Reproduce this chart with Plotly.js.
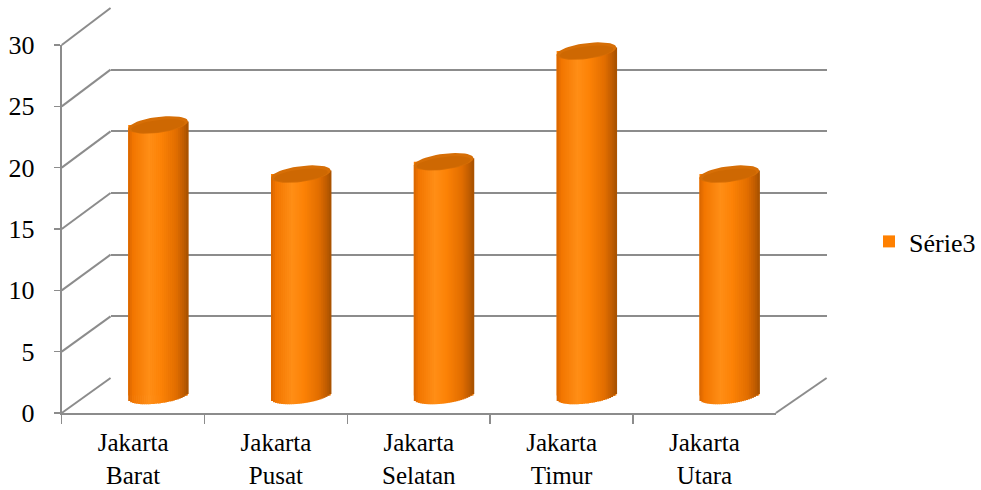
<!DOCTYPE html>
<html>
<head>
<meta charset="utf-8">
<script src="https://cdn.plot.ly/plotly-3.0.1.min.js"></script>
<style>html,body{margin:0;padding:0;background:#fff;}#chart{width:981px;height:490px;}</style>
</head>
<body>
<div id="chart"></div>
<script>
// ---- data ----
const categories = ['Jakarta Barat', 'Jakarta Pusat', 'Jakarta Selatan', 'Jakarta Timur', 'Jakarta Utara'];
const tickLabels = ['Jakarta<br>Barat', 'Jakarta<br>Pusat', 'Jakarta<br>Selatan', 'Jakarta<br>Timur', 'Jakarta<br>Utara'];
const values = [22, 18, 19, 28, 18];
const yTicks = [0, 5, 10, 15, 20, 25, 30];
const seriesName = 'Série3';

// ---- geometry (pixels) ----
const W = 981, H = 490;
const fx = p => p / W;
const fy = p => (H - p) / H;
const FRONT = {x0: 62, x1: 779, y0: 413, y1: 45};
const BACK = {x0: 111, x1: 830, y0: 378, y1: 8};
const MID = {x0: 87, x1: 804, y0: (413 + 378) / 2, y1: (45 + 8) / 2};
const yMax = 30, yMidMin = -2;
const pxPerCat = (MID.x1 - MID.x0) / categories.length;
const pxPerUnit = (MID.y0 - MID.y1) / yMax;
const midBottomPx = MID.y0 - yMidMin * pxPerUnit;

const idx = categories.map((c, i) => i);
const font = "'Liberation Serif', 'Times New Roman', 'DejaVu Serif', serif";

// cylinder geometry
const A = 30, B = 8, TILT = 0.12, N = 30;
function stripeColor(u) {
  const stops = [
    [0.00, [214, 100, 0]],
    [0.08, [242, 118, 0]],
    [0.35, [255, 142, 22]],
    [0.55, [252, 130, 6]],
    [0.80, [226, 110, 0]],
    [0.93, [192, 92, 0]],
    [1.00, [165, 80, 0]]
  ];
  for (let s = 0; s < stops.length - 1; s++) {
    const [u0, c0] = stops[s], [u1, c1] = stops[s + 1];
    if (u >= u0 && u <= u1) {
      const t = (u - u0) / (u1 - u0);
      const c = c0.map((v, k) => Math.round(v + (c1[k] - v) * t));
      return 'rgb(' + c.join(',') + ')';
    }
  }
  return 'rgb(165,80,0)';
}

const traces = [];
// back-wall subplot anchor (invisible)
traces.push({type: 'scatter', x: [0], y: [0], xaxis: 'x2', yaxis: 'y2', mode: 'markers',
  marker: {opacity: 0}, hoverinfo: 'skip', showlegend: false});
// front axes anchor (invisible)
traces.push({type: 'scatter', x: categories, y: values, xaxis: 'x', yaxis: 'y', mode: 'markers',
  marker: {opacity: 0}, hoverinfo: 'skip', showlegend: false});

// base series bar (also gives the legend entry)
traces.push({type: 'bar', name: seriesName, x: idx, y: values, base: 0,
  width: 2 * A / pxPerCat, offset: -A / pxPerCat,
  xaxis: 'x3', yaxis: 'y3', marker: {color: 'rgb(255,128,0)', line: {width: 0}},
  showlegend: true, hoverinfo: 'skip'});

// shaded stripes forming the cylinder body
const sw = 2 * A / N;
for (let k = 0; k < N; k++) {
  const Xl = -A + k * sw;
  const Xc = Xl + sw / 2;
  const u = (k + 0.5) / N;
  const basePx = Xc * TILT - B * Math.sqrt(Math.max(0, 1 - (Xc / A) ** 2));
  const base = basePx / pxPerUnit;
  const topOff = Xc * TILT / pxPerUnit;
  traces.push({type: 'bar', x: idx, y: values.map(v => v + topOff - base),
    base: values.map(() => base),
    width: (sw + 0.7) / pxPerCat, offset: Xl / pxPerCat,
    xaxis: 'x3', yaxis: 'y3', marker: {color: stripeColor(u), line: {width: 0}},
    showlegend: false, hoverinfo: 'skip'});
}

// top ellipses
function ellipseTrace(scaleA, scaleB, dyPx, color) {
  const ex = [], ey = [];
  values.forEach((v, i) => {
    for (let s = 0; s <= 48; s++) {
      const t = s / 48 * 2 * Math.PI;
      const X = A * scaleA * Math.cos(t);
      const Y = X * TILT + B * scaleB * Math.sin(t) + dyPx;
      ex.push(i + X / pxPerCat);
      ey.push(v + Y / pxPerUnit);
    }
    ex.push(null); ey.push(null);
  });
  return {type: 'scatter', x: ex, y: ey, xaxis: 'x3', yaxis: 'y3', mode: 'lines',
    fill: 'toself', fillcolor: color, line: {width: 0, color: color},
    hoverinfo: 'skip', showlegend: false};
}
traces.push(ellipseTrace(1.0, 1.0, 0, 'rgb(214,110,6)'));
traces.push(ellipseTrace(0.9, 0.75, -1.2, 'rgb(206,104,2)'));

// ---- shapes: side-wall diagonals and floor edge ----
const shapes = [];
const frontY = v => fy(FRONT.y0 + (FRONT.y1 - FRONT.y0) * v / yMax);
const backY = v => fy(BACK.y0 + (BACK.y1 - BACK.y0) * v / yMax);
yTicks.forEach(v => {
  shapes.push({type: 'line', xref: 'paper', yref: 'paper',
    x0: fx(FRONT.x0), y0: frontY(v), x1: fx(BACK.x0), y1: backY(v),
    line: {color: '#8c8c8c', width: 2}, layer: 'below'});
});
shapes.push({type: 'line', xref: 'paper', yref: 'paper',
  x0: fx(FRONT.x1), y0: frontY(0), x1: fx(BACK.x1), y1: backY(0),
  line: {color: '#8c8c8c', width: 2}, layer: 'below'});

const layout = {
  width: W, height: H,
  margin: {l: 0, r: 0, t: 0, b: 0},
  paper_bgcolor: '#ffffff',
  plot_bgcolor: 'rgba(0,0,0,0)',
  barmode: 'overlay',
  showlegend: true,
  font: {family: font, color: '#000'},
  legend: {x: fx(873), xanchor: 'left', y: fy(241.5), yanchor: 'middle',
    font: {family: font, size: 26, color: '#000'}, bgcolor: 'rgba(0,0,0,0)', itemwidth: 30},
  xaxis: {domain: [fx(FRONT.x0), fx(FRONT.x1)], anchor: 'y', type: 'category',
    categoryorder: 'array', categoryarray: categories,
    range: [-0.5, categories.length - 0.5], autorange: false,
    tickmode: 'array', tickvals: categories, ticktext: tickLabels,
    tickson: 'boundaries', ticks: 'outside', ticklen: 9, tickwidth: 1.5, tickcolor: '#8c8c8c',
    showline: true, linecolor: '#8c8c8c', linewidth: 2, showgrid: false, zeroline: false,
    ticklabelstandoff: 6,
    tickfont: {family: font, size: 25, color: '#000'}, fixedrange: true},
  yaxis: {domain: [fy(FRONT.y0), fy(FRONT.y1)], anchor: 'x', range: [0, yMax], autorange: false,
    tickmode: 'array', tickvals: yTicks, ticktext: yTicks.map(String),
    ticks: 'outside', ticklen: 6, tickwidth: 1.5, tickcolor: '#8c8c8c',
    showline: true, linecolor: '#8c8c8c', linewidth: 2, showgrid: false, zeroline: false,
    ticklabelstandoff: 14,
    tickfont: {family: font, size: 26, color: '#000'}, fixedrange: true},
  xaxis2: {domain: [fx(BACK.x0), fx(BACK.x1)], anchor: 'y2', range: [0, 1],
    visible: true, showgrid: false, showline: false, zeroline: false, showticklabels: false, ticks: ''},
  yaxis2: {domain: [fy(BACK.y0), fy(BACK.y1)], anchor: 'x2', range: [0, yMax],
    tickmode: 'array', tickvals: yTicks, showgrid: true, gridcolor: '#8c8c8c', gridwidth: 2,
    showline: false, zeroline: false, showticklabels: false, ticks: ''},
  xaxis3: {domain: [fx(MID.x0), fx(MID.x1)], anchor: 'y3', range: [-0.5, categories.length - 0.5],
    visible: false},
  yaxis3: {domain: [fy(midBottomPx), fy(MID.y1)], anchor: 'x3', range: [yMidMin, yMax],
    visible: false},
  shapes: shapes
};

Plotly.newPlot('chart', traces, layout, {displayModeBar: false, staticPlot: true});
</script>
</body>
</html>
